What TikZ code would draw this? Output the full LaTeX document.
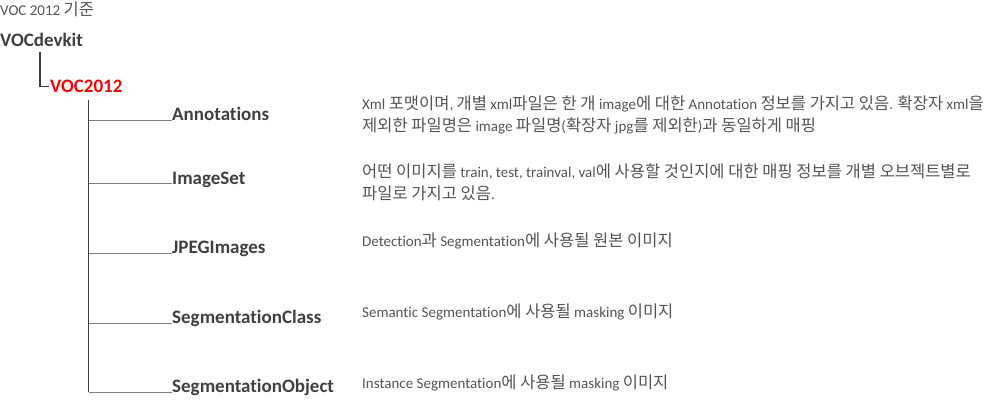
\documentclass[tikz,border=0pt]{standalone}
\usepackage{fontspec}
\setmainfont[Ligatures=NoCommon]{Carlito}
\newfontfamily\krfont[Scale=1.1]{Noto Sans CJK KR}
\newcommand\kr[1]{{\krfont #1}}
\definecolor{foldercol}{HTML}{404040}
\definecolor{desccol}{HTML}{555555}
\definecolor{trunkcol}{HTML}{404040}
\definecolor{branchcol}{HTML}{7F7F7F}
\definecolor{redcol}{HTML}{FF0000}
\begin{document}
\begin{tikzpicture}[x=1pt,y=-1pt,
  folder/.style={anchor=base west,inner sep=0pt,font=\fontsize{19}{22}\selectfont\bfseries,text=foldercol},
  desc/.style={anchor=base west,inner sep=0pt,align=left,font=\fontsize{15}{22}\selectfont,text=desccol},
  trunk/.style={draw=trunkcol,line width=1.2pt},
  branch/.style={draw=branchcol,line width=1pt}]
\useasboundingbox (0,0) rectangle (1007,401);
% title
\node[anchor=base west,inner sep=0pt,font=\fontsize{15}{16}\selectfont,text=desccol] (title) at (0,16) {VOC 2012 \kr{기준}};
\node[folder] (devkit) at (0,47) {VOCdevkit};
\node[folder,text=redcol,inner sep=1pt] (voc) at (49,93) {VOC2012};
\coordinate (d1) at (40,52);
\draw[trunk] (d1) |- (voc.west);
% folders
\node[folder] (ann) at (172,121) {Annotations};
\node[folder] (imgset) at (172,184) {ImageSet};
\node[folder] (jpeg) at (172,253) {JPEGImages};
\node[folder] (segcls) at (172,323) {SegmentationClass};
\node[folder] (segobj) at (172,392) {SegmentationObject};
% trunk
\coordinate (t0) at (88.5,100);
\coordinate (t1) at (88.5,121);
\coordinate (t2) at (88.5,184);
\coordinate (t3) at (88.5,253);
\coordinate (t4) at (88.5,323);
\coordinate (t5) at (88.5,392);
\draw[trunk] (t0) -- (t5);
\draw[branch] (t1) -- (ann.base west);
\draw[branch] (t2) -- (imgset.base west);
\draw[branch] (t3) -- (jpeg.base west);
\draw[branch] (t4) -- (segcls.base west);
\draw[branch] (t5) -- (segobj.base west);
% descriptions (base anchor = last line)
\node[desc] (annd) at (362,132) {Xml \kr{포맷이며}, \kr{개별} xml\kr{파일은 한 개} image\kr{에 대한} Annotation \kr{정보를 가지고 있음}. \kr{확장자} xml\kr{을}\\
\kr{제외한 파일명은} image \kr{파일명}(\kr{확장자} jpg\kr{를 제외한})\kr{과 동일하게 매핑}};
\node[desc] (imgsetd) at (362,200) {\kr{어떤 이미지를} train, test, trainval, val\kr{에 사용할 것인지에 대한 매핑 정보를 개별 오브젝트별로}\\
\kr{파일로 가지고 있음}.};
\node[desc] (jpegd) at (362,246) {Detection\kr{과} Segmentation\kr{에 사용될 원본 이미지}};
\node[desc] (segclsd) at (362,317) {Semantic Segmentation\kr{에 사용될} masking \kr{이미지}};
\node[desc] (segobjd) at (362,388) {Instance Segmentation\kr{에 사용될} masking \kr{이미지}};
\end{tikzpicture}
\end{document}
